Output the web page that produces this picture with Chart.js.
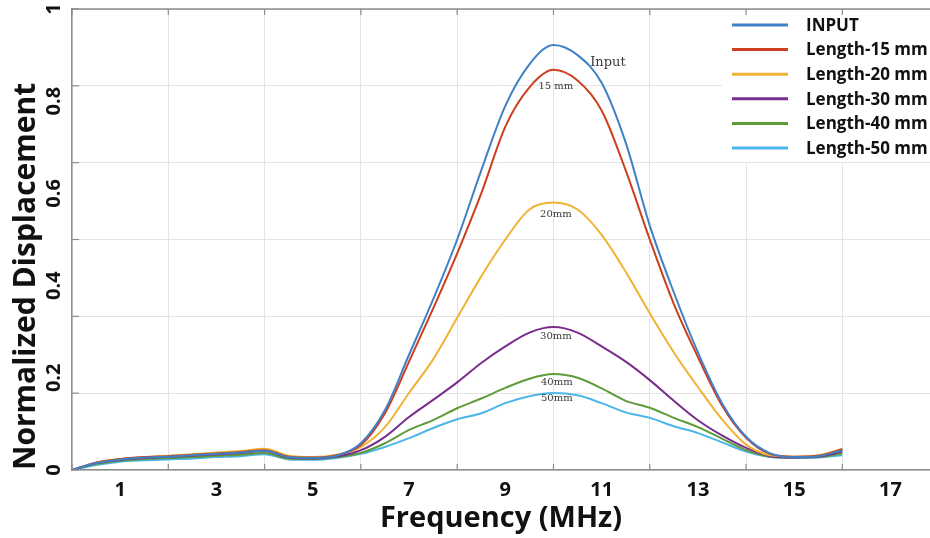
<!DOCTYPE html>
<html>
<head>
<meta charset="utf-8">
<script src="https://cdn.jsdelivr.net/npm/chart.js@4.4.1/dist/chart.umd.min.js"></script>
<style>
  html, body { margin: 0; padding: 0; background: #fff; }
  #wrap { width: 930px; height: 538px; }
</style>
</head>
<body>
<div id="wrap"><canvas id="dispChart"></canvas></div>
<script>
// Frequency samples (MHz)
const freq = [0, 0.5, 1, 1.5, 2, 2.5, 3, 3.5, 4, 4.5, 5, 5.5, 6, 6.5, 7, 7.5, 8,
              8.5, 9, 9.5, 10, 10.5, 11, 11.5, 12, 12.5, 13, 13.5, 14, 14.5, 15, 15.5, 16];

// Normalized displacement
const inputDisp = [0, 0.015, 0.023, 0.027, 0.029, 0.032, 0.035, 0.038, 0.042, 0.028, 0.026, 0.031, 0.058, 0.13, 0.25, 0.37, 0.50,
                   0.65, 0.79, 0.88, 0.922, 0.90, 0.84, 0.71, 0.53, 0.385, 0.255, 0.145, 0.072, 0.036, 0.028, 0.03, 0.043];
const len15 = [0, 0.016, 0.024, 0.028, 0.03, 0.033, 0.036, 0.039, 0.043, 0.029, 0.027, 0.032, 0.054, 0.123, 0.235, 0.35, 0.47,
               0.60, 0.745, 0.83, 0.868, 0.845, 0.78, 0.65, 0.50, 0.36, 0.245, 0.14, 0.07, 0.035, 0.029, 0.031, 0.045];
const len20 = [0, 0.016, 0.024, 0.028, 0.031, 0.034, 0.038, 0.041, 0.046, 0.031, 0.028, 0.033, 0.05, 0.093, 0.167, 0.24, 0.33,
               0.42, 0.50, 0.565, 0.58, 0.565, 0.51, 0.43, 0.34, 0.255, 0.18, 0.11, 0.055, 0.032, 0.029, 0.032, 0.046];
const len30 = [0, 0.015, 0.022, 0.026, 0.029, 0.031, 0.034, 0.037, 0.041, 0.027, 0.025, 0.029, 0.043, 0.072, 0.115, 0.152, 0.19,
               0.232, 0.268, 0.298, 0.31, 0.298, 0.268, 0.235, 0.195, 0.15, 0.108, 0.075, 0.048, 0.03, 0.027, 0.029, 0.04];
const len40 = [0, 0.013, 0.02, 0.024, 0.026, 0.028, 0.031, 0.033, 0.037, 0.025, 0.024, 0.028, 0.037, 0.058, 0.087, 0.108, 0.134,
               0.155, 0.178, 0.198, 0.208, 0.20, 0.177, 0.15, 0.135, 0.113, 0.093, 0.068, 0.043, 0.029, 0.027, 0.028, 0.036];
const len50 = [0, 0.011, 0.018, 0.021, 0.023, 0.025, 0.028, 0.03, 0.034, 0.023, 0.022, 0.026, 0.035, 0.05, 0.069, 0.091, 0.11,
               0.123, 0.145, 0.16, 0.167, 0.162, 0.145, 0.125, 0.113, 0.095, 0.08, 0.06, 0.04, 0.028, 0.026, 0.027, 0.032];

const seriesNames = ["INPUT", "Length-15 mm", "Length-20 mm", "Length-30 mm", "Length-40 mm", "Length-50 mm"];

// Tick labels and grid positions
const xTickLabels = [1, 3, 5, 7, 9, 11, 13, 15, 17];
const xGridValues = [0, 2, 4, 6, 8, 10, 12, 14, 16];
const yTickLabels = [0, 0.2, 0.4, 0.6, 0.8, 1];
const yGridValues = [0, 1 / 6, 2 / 6, 3 / 6, 4 / 6, 5 / 6, 1];

// Labels written next to each curve peak
const noteTexts = ["Input", "15 mm", "20mm", "30mm", "40mm", "50mm"];
const noteFreq = [11.13, 10.05, 10.05, 10.05, 10.07, 10.07];
const noteValue = [0.883, 0.833, 0.555, 0.289, 0.191, 0.156];

const near = (arr, v) => arr.some(a => Math.abs(a - v) < 1e-6);
const toPoints = ys => freq.map((f, i) => ({ x: f, y: ys[i] }));

function makeSet(label, data, color) {
    return {
        label: label,
        data: toPoints(data),
        borderColor: color,
        backgroundColor: color,
        borderWidth: 2,
        pointRadius: 0,
        fill: false,
        tension: 0.4,
        cubicInterpolationMode: "monotone"
    };
}

const axisGray = "#8c8c8c";
const gridGray = "#e4e4e4";

// draws box, inner tick marks, legend and curve notes
const decorPlugin = {
    id: "decor",
    afterDatasetsDraw(chart) {
        const ctx = chart.ctx;
        const area = chart.chartArea;
        const xs = chart.scales.x;
        const ys = chart.scales.y;
        ctx.save();

        // legend box
        ctx.fillStyle = "#fff";
        ctx.fillRect(722, 12, area.right - 722, 150);
        ctx.font = "bold 17px 'Open Sans', sans-serif";
        ctx.textBaseline = "middle";
        ctx.textAlign = "left";
        chart.data.datasets.forEach((ds, i) => {
            const y = 25 + i * 24.6;
            ctx.strokeStyle = ds.borderColor;
            ctx.lineWidth = 3;
            ctx.beginPath();
            ctx.moveTo(732, y);
            ctx.lineTo(788, y);
            ctx.stroke();
            ctx.fillStyle = "#111";
            ctx.fillText(ds.label, 806, y + 1);
        });

        // notes near the peaks
        ctx.fillStyle = "#3a3a3a";
        ctx.textAlign = "center";
        noteTexts.forEach((t, i) => {
            const px = xs.getPixelForValue(noteFreq[i]);
            const py = ys.getPixelForValue(noteValue[i]);
            ctx.font = (i === 0 ? "13px" : "10px") + " 'DejaVu Serif', serif";
            ctx.fillText(t, px, py);
        });

        // top frame line
        ctx.strokeStyle = axisGray;
        ctx.lineWidth = 1.5;
        ctx.beginPath();
        ctx.moveTo(area.left, area.top);
        ctx.lineTo(area.right, area.top);
        ctx.stroke();

        // inner ticks
        ctx.lineWidth = 1.2;
        xGridValues.forEach(v => {
            const px = xs.getPixelForValue(v);
            ctx.beginPath();
            ctx.moveTo(px, area.bottom);
            ctx.lineTo(px, area.bottom - 6);
            ctx.moveTo(px, area.top);
            ctx.lineTo(px, area.top + 6);
            ctx.stroke();
        });
        yGridValues.forEach(v => {
            const py = ys.getPixelForValue(v);
            ctx.beginPath();
            ctx.moveTo(area.left, py);
            ctx.lineTo(area.left + 7, py);
            ctx.stroke();
        });
        ctx.restore();
    }
};

Chart.defaults.font.family = "'Open Sans', sans-serif";
Chart.defaults.color = "#111";

const chart = new Chart(document.getElementById("dispChart"), {
    type: "line",
    data: {
        datasets: [
            makeSet(seriesNames[0], inputDisp, "#3f80c6"),
            makeSet(seriesNames[1], len15, "#cd3e1f"),
            makeSet(seriesNames[2], len20, "#f0b232"),
            makeSet(seriesNames[3], len30, "#7a2d8c"),
            makeSet(seriesNames[4], len40, "#5f9b39"),
            makeSet(seriesNames[5], len50, "#4cb6e8")
        ]
    },
    options: {
        responsive: true,
        maintainAspectRatio: false,
        animation: false,
        layout: { padding: { left: 0, right: 0, top: 9, bottom: 0 } },
        plugins: {
            legend: { display: false },
            tooltip: { enabled: false }
        },
        scales: {
            x: {
                type: "linear",
                min: 0,
                max: 17.82,
                afterBuildTicks: scale => {
                    const t = [];
                    for (let v = 0; v <= 17; v++) t.push({ value: v });
                    scale.ticks = t;
                },
                afterFit: scale => {
                    scale.height = 68;
                    scale.paddingLeft = 0;
                    scale.paddingRight = 0;
                },
                ticks: {
                    autoSkip: false,
                    maxRotation: 0,
                    padding: 8,
                    font: { size: 20, weight: "bold" },
                    callback: v => near(xTickLabels, v) ? String(v) : ""
                },
                grid: {
                    drawTicks: false,
                    color: c => (c.tick && near(xGridValues, c.tick.value)) ? gridGray : "rgba(0,0,0,0)"
                },
                border: { display: true, color: axisGray, width: 1.5 },
                title: {
                    display: true,
                    text: "Frequency (MHz)",
                    font: { size: 29, weight: "bold" },
                    padding: { top: 0, bottom: 2 }
                }
            },
            y: {
                type: "linear",
                min: 0,
                max: 1,
                afterBuildTicks: scale => {
                    const vals = yTickLabels.concat(yGridValues.filter(g => !near(yTickLabels, g)));
                    vals.sort((a, b) => a - b);
                    scale.ticks = vals.map(v => ({ value: v }));
                },
                afterFit: scale => {
                    scale.width = 72;
                    scale.paddingTop = 0;
                    scale.paddingBottom = 0;
                },
                ticks: {
                    autoSkip: false,
                    minRotation: 90,
                    maxRotation: 90,
                    crossAlign: "center",
                    padding: 3,
                    font: { size: 20, weight: "bold" },
                    callback: v => near(yTickLabels, v) ? String(Math.round(v * 10) / 10) : ""
                },
                grid: {
                    drawTicks: false,
                    color: c => (c.tick && near(yGridValues, c.tick.value)) ? gridGray : "rgba(0,0,0,0)"
                },
                border: { display: true, color: axisGray, width: 1.5 },
                title: {
                    display: true,
                    text: "Normalized Displacement",
                    align: "start",
                    font: { size: 30, weight: "bold" },
                    padding: { top: 8, bottom: 0 }
                }
            }
        }
    },
    plugins: [decorPlugin]
});
</script>
</body>
</html>
